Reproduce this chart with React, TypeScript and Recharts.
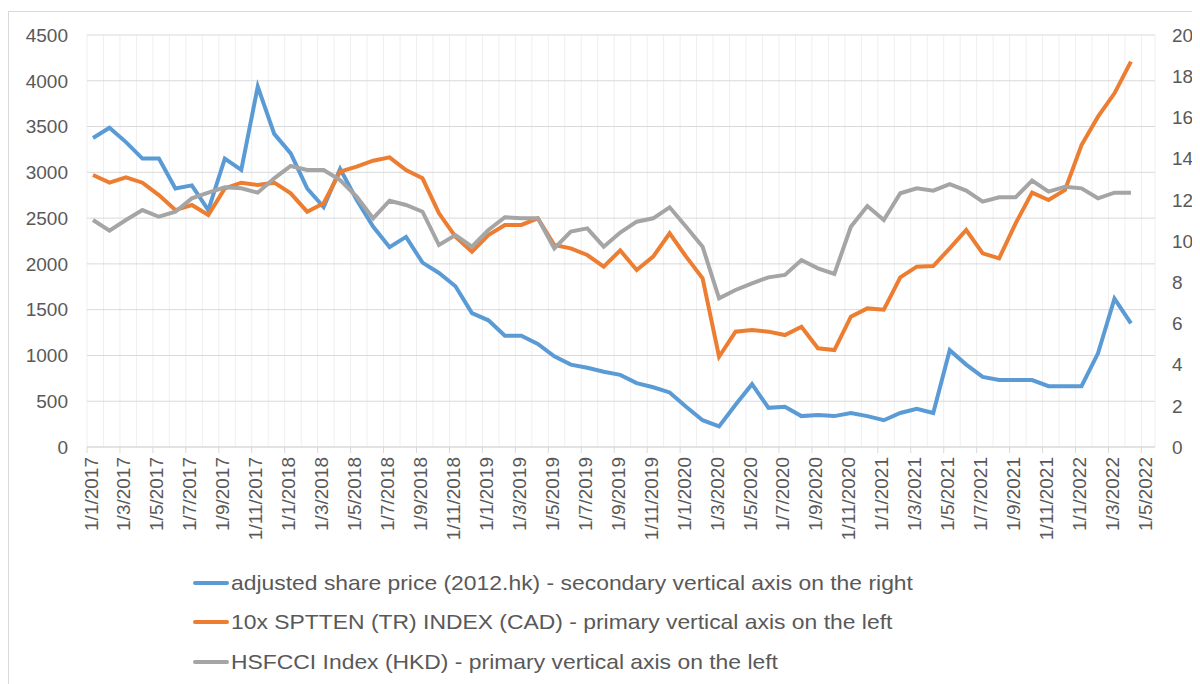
import React from 'react';
import { LineChart, Line, XAxis, YAxis, CartesianGrid, Legend } from 'recharts';

// Monthly observations, Jan 2017 .. Apr 2022 (64 points)
const startYear = 2017;
const monthCount = 65; // tick slots Jan 2017 .. May 2022

const sharePrice = [
  15.0, 15.5, 14.8, 14.0, 14.0, 12.55, 12.7, 11.5, 14.0, 13.45,
  17.5, 15.2, 14.25, 12.55, 11.65, 13.5, 12.0, 10.7, 9.7, 10.2,
  8.95, 8.45, 7.8, 6.5, 6.15, 5.4, 5.4, 5.0, 4.4, 4.0,
  3.85, 3.65, 3.5, 3.1, 2.9, 2.65, 1.95, 1.3, 1.0, 2.05,
  3.05, 1.9, 1.95, 1.5, 1.55, 1.5, 1.65, 1.5, 1.3, 1.65,
  1.85, 1.65, 4.7, 4.0, 3.4, 3.25, 3.25, 3.25, 2.95, 2.95,
  2.95, 4.55, 7.2, 6.0,
];

const sptten = [
  2971, 2887, 2945, 2887, 2752, 2588, 2643, 2534, 2825, 2887,
  2862, 2887, 2771, 2570, 2662, 3007, 3062, 3127, 3164, 3025,
  2935, 2552, 2297, 2133, 2315, 2425, 2425, 2498, 2206, 2170,
  2097, 1970, 2148, 1933, 2079, 2334, 2079, 1842, 986, 1260,
  1278, 1260, 1223, 1314, 1078, 1059, 1423, 1514, 1500, 1853,
  1970, 1977, 2170, 2370, 2115, 2061, 2443, 2778, 2698, 2807,
  3298, 3608, 3863, 4209,
];

const hsfcci = [
  2479, 2363, 2479, 2588, 2515, 2570, 2716, 2778, 2836, 2825,
  2778, 2935, 3069, 3025, 3025, 2916, 2734, 2498, 2690, 2643,
  2570, 2206, 2315, 2188, 2370, 2509, 2498, 2498, 2170, 2352,
  2388, 2188, 2343, 2461, 2498, 2618, 2406, 2188, 1624, 1715,
  1788, 1853, 1879, 2042, 1952, 1890, 2406, 2632, 2479, 2771,
  2825, 2800, 2872, 2800, 2680, 2727, 2727, 2909, 2789, 2843,
  2825, 2716, 2778, 2778,
];

const leftTicks = [0, 500, 1000, 1500, 2000, 2500, 3000, 3500, 4000, 4500];
const rightTicks = [0, 2, 4, 6, 8, 10, 12, 14, 16, 18, 20];

const seriesNames = {
  blue: 'adjusted share price (2012.hk) - secondary vertical axis on the right',
  orange: '10x SPTTEN (TR) INDEX (CAD) - primary vertical axis on the left',
  gray: 'HSFCCI Index (HKD) - primary vertical axis on the left',
};
const colors = { blue: '#5b9bd5', orange: '#ed7d31', gray: '#a5a5a5' };

const SHIFT = 0.364; // month boundary offset from the data point
const data = sharePrice.map((v, i) => ({ i, blue: v, orange: sptten[i], gray: hsfcci[i] }));
const monthTicks = Array.from({ length: monthCount }, (_, k) => k - SHIFT);

const monthLabel = (k: number) => {
  const y = startYear + Math.floor(k / 12);
  const m = (k % 12) + 1;
  return `1/${m}/${y}`;
};

const FONT = '"Liberation Sans", Arial, sans-serif';
const TEXT = '#595959';

const XTick = (props: any) => {
  const { x, y, payload } = props;
  const k = Math.round(payload.value + SHIFT);
  if (k % 2 !== 0) return <g />;
  return (
    <g>
      <line x1={x} x2={x} y1={y} y2={y + 6} stroke="#d9d9d9" strokeWidth={1} />
      <text
        transform={`translate(${x + 4},${y + 10}) rotate(-90)`}
        textAnchor="end"
        dominantBaseline="central"
        fontSize={19}
        fontFamily={FONT}
        fill={TEXT}
      >
        {monthLabel(k)}
      </text>
    </g>
  );
};

const LegendContent = () => {
  const keys: Array<'blue' | 'orange' | 'gray'> = ['blue', 'orange', 'gray'];
  return (
    <div style={{ paddingTop: 1 }}>
      {keys.map((k) => (
        <div key={k} style={{ height: 39.5, display: 'flex', alignItems: 'center', whiteSpace: 'nowrap' }}>
          <span style={{ display: 'inline-block', width: 36, height: 4, background: colors[k], borderRadius: 2 }} />
          <span
            style={{
              display: 'inline-block',
              marginLeft: 2,
              fontFamily: FONT,
              fontSize: 21,
              color: TEXT,
              transform: 'scaleX(1.09)',
              transformOrigin: 'left center',
            }}
          >
            {seriesNames[k]}
          </span>
        </div>
      ))}
    </div>
  );
};

export default function App() {
  return (
    <div style={{ marginTop: 3, width: 1192, height: 673, borderTop: '1px solid #d9d9d9', borderLeft: '1px solid #d9d9d9', background: '#fff' }}>
      <LineChart width={1191} height={672} data={data} margin={{ top: 23, right: 0, left: 0, bottom: 0 }}>
        <CartesianGrid vertical horizontal={false} stroke="#efefef" strokeWidth={1} />
        <CartesianGrid vertical={false} horizontal stroke="#d9d9d9" strokeWidth={1} />
        <XAxis
          dataKey="i"
          type="number"
          domain={[-SHIFT, 64.46]}
          ticks={monthTicks}
          interval={0}
          tick={<XTick />}
          tickLine={false}
          tickSize={0}
          tickMargin={0}
          height={115}
          axisLine={{ stroke: '#d9d9d9' }}
        />
        <YAxis
          domain={[0, 4500]}
          ticks={leftTicks}
          width={78}
          axisLine={false}
          tickLine={false}
          tickSize={0}
          tickMargin={19}
          tick={{ fontSize: 19, fontFamily: FONT, fill: TEXT }}
        />
        <YAxis
          yAxisId="right"
          orientation="right"
          domain={[0, 20]}
          ticks={rightTicks}
          width={45}
          axisLine={false}
          tickLine={false}
          tickSize={0}
          tickMargin={17}
          tick={{ fontSize: 19, fontFamily: FONT, fill: TEXT, textAnchor: 'start' }}
        />
        <Legend
          layout="vertical"
          verticalAlign="bottom"
          align="center"
          content={<LegendContent />}
          wrapperStyle={{ left: 184, bottom: 0, width: 900, height: 122 }}
        />
        <Line yAxisId="right" type="linear" dataKey="blue" name={seriesNames.blue} stroke={colors.blue} strokeWidth={4} dot={false} isAnimationActive={false} />
        <Line type="linear" dataKey="orange" name={seriesNames.orange} stroke={colors.orange} strokeWidth={4} dot={false} isAnimationActive={false} />
        <Line type="linear" dataKey="gray" name={seriesNames.gray} stroke={colors.gray} strokeWidth={4} dot={false} isAnimationActive={false} />
      </LineChart>
    </div>
  );
}
